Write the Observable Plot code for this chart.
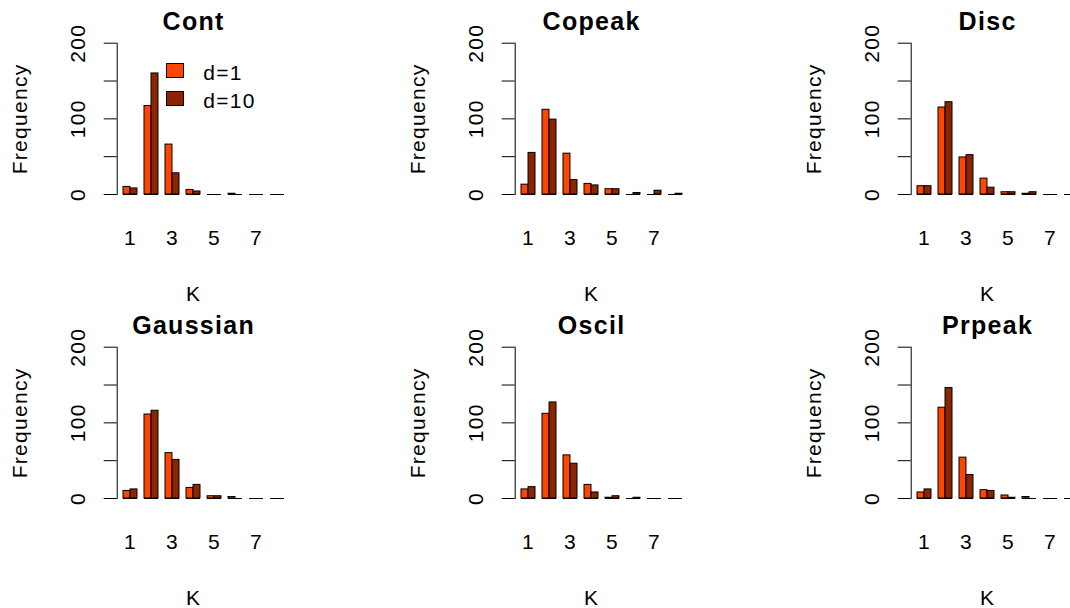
<!DOCTYPE html>
<html>
<head>
<meta charset="utf-8">
<script src="https://cdn.jsdelivr.net/npm/d3@7"></script>
<script src="https://cdn.jsdelivr.net/npm/@observablehq/plot@0.6"></script>
<style>
  html, body { margin: 0; padding: 0; background: #ffffff; }
  #chart { position: relative; width: 1070px; height: 608px; overflow: hidden; background: #ffffff;
           font-family: "Liberation Sans", Arial, Helvetica, sans-serif; }
  .panel { position: absolute; width: 398px; height: 304px; }
  .panel svg { max-width: none !important; }
  .lg-box { position: absolute; box-sizing: border-box; border: 1px solid #000; }
  .lg-txt { position: absolute; font-size: 21px; line-height: 21px; letter-spacing: 1.3px; color: #000; white-space: nowrap; }
</style>
</head>
<body>
<div id="chart"></div>
<script>
// ---------------- data ----------------
const K = [1, 2, 3, 4, 5, 6, 7, 8];
const kTickLabels = [1, 3, 5, 7];
const yTickLabels = [0, 100, 200];
const panelNames = ["Cont", "Copeak", "Disc", "Gaussian", "Oscil", "Prpeak"];
const seriesNames = ["d=1", "d=10"];
const seriesColors = ["#FF4500", "#8B2500"];

const contD1      = [10, 117, 66, 6, 0, 1, 0, 0];
const contD10     = [8, 160, 28, 4, 0, 0, 0, 0];
const copeakD1    = [13, 112, 54, 14, 7, 0, 0, 0];
const copeakD10   = [55, 99, 19, 12, 7, 2, 5, 1];
const discD1      = [11, 115, 49, 21, 3, 1, 0, 0];
const discD10     = [11, 122, 52, 9, 3, 3, 0, 0];
const gaussianD1  = [10, 111, 60, 14, 3, 2, 0, 0];
const gaussianD10 = [12, 116, 51, 18, 3, 0, 0, 0];
const oscilD1     = [12, 112, 57, 18, 1, 0, 0, 0];
const oscilD10    = [15, 127, 46, 8, 3, 1, 0, 0];
const prpeakD1    = [8, 120, 54, 11, 4, 2, 0, 0];
const prpeakD10   = [12, 146, 31, 10, 1, 0, 0, 0];

const panelSeries = [
  [contD1, contD10], [copeakD1, copeakD10], [discD1, discD10],
  [gaussianD1, gaussianD10], [oscilD1, oscilD10], [prpeakD1, prpeakD10]
];

// ---------------- layout ----------------
const colX = [0, 397.6, 794.3];
const rowY = [0, 304];
const PW = 398, PH = 304;
const mL = 116.7;        // y-axis position (plot region left)
const frameR = 269.5;    // plot region right (title / K label centred on region)
const xRangeR = 291.1;   // bars overflow the region like R's barplot (xpd=TRUE)
const yTop = 42.7, yZero = 194;
const padOuter = 0.92 / 3, padInner = 1 / 3;

const band = d3.scaleBand(K, [mL, xRangeR]).paddingInner(padInner).paddingOuter(padOuter).align(0.5);
const bw = band.bandwidth();

const chart = document.getElementById("chart");

panelNames.forEach((name, i) => {
  const col = i % 3, row = Math.floor(i / 3);
  const [s1, s2] = panelSeries[i];
  const rows1 = K.map((k, j) => ({K: k, v: s1[j]}));
  const rows2 = K.map((k, j) => ({K: k, v: s2[j]}));

  const plot = Plot.plot({
    width: PW,
    height: PH,
    marginLeft: mL,
    marginRight: PW - frameR,
    marginTop: yTop,
    marginBottom: PH - yZero,
    style: {
      background: "transparent",
      fontFamily: "'Liberation Sans', Arial, Helvetica, sans-serif",
      fontSize: "21px",
      letterSpacing: "1.3px",
      overflow: "visible",
      maxWidth: "none",
      color: "#000"
    },
    x: {type: "band", domain: K, range: [mL, xRangeR], paddingInner: padInner, paddingOuter: padOuter, align: 0.5, axis: null},
    y: {domain: [0, 200], ticks: 5, tickSize: 13, tickFormat: () => "", line: true, label: null},
    marks: [
      Plot.barY(rows1, {x: "K", y: "v", fill: seriesColors[0], stroke: "#000", strokeWidth: 1, insetRight: bw / 2}),
      Plot.barY(rows2, {x: "K", y: "v", fill: seriesColors[1], stroke: "#000", strokeWidth: 1, insetLeft: bw / 2}),
      Plot.tickY(K, {x: d => d, y: 0, stroke: "#000", strokeWidth: 1}),
      Plot.text(yTickLabels, {y: d => d, text: d => String(d), frameAnchor: "left", rotate: -90,
                              dx: -32.4, lineAnchor: "bottom", textAnchor: "middle", fill: "#000"}),
      Plot.text(kTickLabels, {x: d => d, text: d => String(d), frameAnchor: "bottom",
                              dy: 50.3, lineAnchor: "bottom", textAnchor: "middle", fill: "#000"}),
      Plot.text(["Frequency"], {frameAnchor: "left", rotate: -90, dx: -90.2, lineAnchor: "bottom", textAnchor: "middle", fill: "#000"}),
      Plot.text(["K"], {frameAnchor: "bottom", dy: 106, lineAnchor: "bottom", textAnchor: "middle", fill: "#000"}),
      Plot.text([name], {frameAnchor: "top", dy: -13.4, lineAnchor: "bottom", textAnchor: "middle",
                         fontWeight: "bold", fontSize: 25, fill: "#000"})
    ]
  });

  const div = document.createElement("div");
  div.className = "panel";
  div.style.left = colX[col] + "px";
  div.style.top = rowY[row] + "px";
  div.appendChild(plot);
  chart.appendChild(div);
});

// ---------------- legend (Cont panel) ----------------
const legendBoxes = [{left: 165.5, top: 63.2}, {left: 165.5, top: 90.8}];
const legendTextTops = [62.2, 89.5];
seriesNames.forEach((s, i) => {
  const box = document.createElement("div");
  box.className = "lg-box";
  box.style.left = legendBoxes[i].left + "px";
  box.style.top = legendBoxes[i].top + "px";
  box.style.width = "18px";
  box.style.height = "15px";
  box.style.background = seriesColors[i];
  chart.appendChild(box);
  const t = document.createElement("div");
  t.className = "lg-txt";
  t.style.left = "203.3px";
  t.style.top = legendTextTops[i] + "px";
  t.textContent = s;
  chart.appendChild(t);
});
</script>
</body>
</html>
